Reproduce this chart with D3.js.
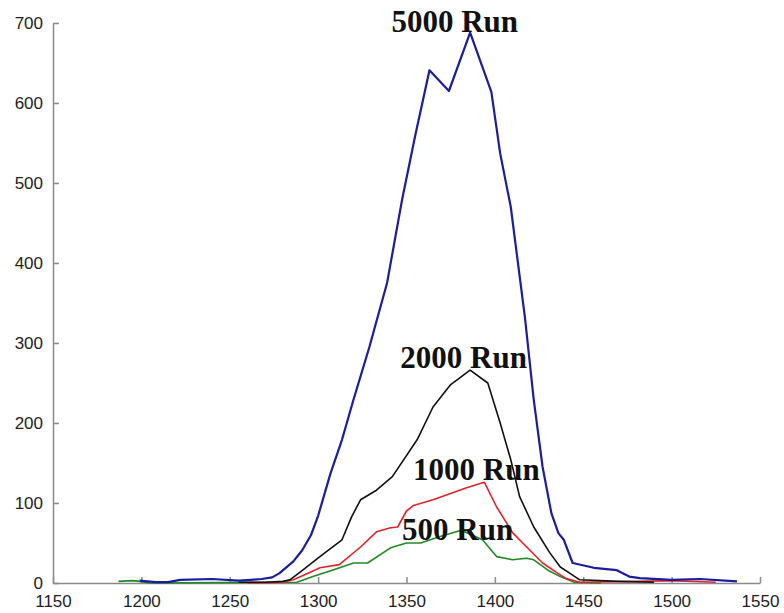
<!DOCTYPE html>
<html>
<head>
<meta charset="utf-8">
<script src="https://cdn.jsdelivr.net/npm/d3@7"></script>
<style>
  body { margin: 0; background: #fff; }
  .axis path, .axis line { stroke: #8a8a8a; stroke-width: 1.5; }
  .axis text { font-family: "Liberation Sans", Arial, sans-serif; font-size: 17px; fill: #222; }
  .runlabel { font-family: "Liberation Serif", "Times New Roman", serif; font-weight: bold; font-size: 31px; fill: #111; }
</style>
</head>
<body>
<script>
// tick values
var xTicks = [1150, 1200, 1250, 1300, 1350, 1400, 1450, 1500, 1550];
var yTicks = [0, 100, 200, 300, 400, 500, 600, 700];

// 5000 run (blue)
var run5000X = [1199, 1208, 1215, 1222, 1240, 1255, 1262, 1268, 1274, 1278, 1286, 1291, 1296, 1300, 1307, 1313.5, 1320, 1329, 1339, 1347.5, 1355, 1363, 1374, 1386, 1398, 1403, 1409, 1417, 1422, 1427, 1432, 1436, 1439, 1444, 1456, 1469, 1476, 1482, 1500, 1516, 1537];
var run5000Y = [3, 1, 1, 4, 5, 3, 4, 5, 7, 12, 27, 41, 60, 84, 137, 179, 229, 295, 375, 479, 560, 641, 615, 688, 614, 537, 470, 332, 229, 145, 87, 62, 54, 25, 19, 16, 8, 6, 4, 5, 2];

// 2000 run (black)
var run2000X = [1255, 1270, 1280, 1284, 1290, 1301, 1313.5, 1319, 1324, 1333, 1342, 1356, 1365, 1375, 1386, 1396, 1403, 1409, 1414, 1422, 1431, 1437, 1442.5, 1448, 1470, 1490];
var run2000Y = [1, 1, 2, 4, 14, 33, 54, 83, 104, 116, 133, 179, 220, 248, 266, 250, 200, 154, 108, 70, 38, 20, 12, 4, 2, 1];

// 1000 run (red)
var run1000X = [1260, 1280, 1286, 1294, 1301, 1312, 1324, 1333, 1341, 1345, 1350, 1354, 1365, 1384, 1394, 1401, 1410, 1418, 1427, 1435, 1440, 1448, 1480, 1500, 1525];
var run1000Y = [0, 1, 4, 12, 19, 23, 45, 64, 69, 70, 90, 97, 104, 119, 126, 95, 63, 45, 25, 13, 6, 1, 2, 3, 1];

// 500 run (green)
var run500X = [1187, 1195, 1199, 1205, 1288, 1297, 1308, 1320, 1328, 1341, 1350, 1358, 1369, 1381, 1393, 1401, 1410, 1418, 1422, 1430, 1437, 1445, 1460];
var run500Y = [2, 3, 2, 0, 1, 8, 16, 25, 25, 44, 50, 50, 58, 66, 54, 33, 29, 31, 29, 16, 8, 1, 0];

// labels: text, x, y (data units, left/baseline)
var labelText = ["5000 Run", "2000 Run", "1000 Run", "500 Run"];
var labelX = [1341.5, 1346.5, 1353.7, 1347.5];
var labelY = [689, 269, 129, 54];

function main() {
    var width = 784, height = 613;
    var left = 53, right = 760, top = 23, bottom = 583;

    var svg = d3.select("body")
      .append("svg")
      .attr("width", width)
      .attr("height", height);

    var x = d3.scaleLinear().domain([1150, 1550]).range([left, right]);
    var y = d3.scaleLinear().domain([0, 700]).range([bottom, top]);

    svg.append("g")
      .attr("class", "axis")
      .attr("transform", "translate(0," + bottom + ")")
      .call(d3.axisBottom(x).tickValues(xTicks).tickSize(-6).tickSizeOuter(0).tickPadding(12).tickFormat(d3.format("d")));

    svg.append("g")
      .attr("class", "axis")
      .attr("transform", "translate(" + left + ",0)")
      .call(d3.axisLeft(y).tickValues(yTicks).tickSize(-6).tickSizeOuter(0).tickPadding(10).tickFormat(d3.format("d")));

    var series = [
        { xs: run500X, ys: run500Y, color: "#1f8a24", w: 1.6 },
        { xs: run1000X, ys: run1000Y, color: "#e3232c", w: 1.6 },
        { xs: run2000X, ys: run2000Y, color: "#111111", w: 1.6 },
        { xs: run5000X, ys: run5000Y, color: "#1c1c9e", w: 2.2 }
    ];

    var line = d3.line()
      .x(function (d) { return x(d[0]); })
      .y(function (d) { return y(d[1]); });

    svg.selectAll("path.run")
      .data(series)
      .enter()
      .append("path")
      .attr("class", "run")
      .attr("fill", "none")
      .attr("stroke", function (d) { return d.color; })
      .attr("stroke-width", function (d) { return d.w; })
      .attr("stroke-linejoin", "round")
      .attr("d", function (d) { return line(d3.zip(d.xs, d.ys)); });

    svg.selectAll("text.runlabel")
      .data(labelText)
      .enter()
      .append("text")
      .attr("class", "runlabel")
      .attr("x", function (d, i) { return x(labelX[i]); })
      .attr("y", function (d, i) { return y(labelY[i]); })
      .text(function (d) { return d; });
}
main();
</script>
</body>
</html>
